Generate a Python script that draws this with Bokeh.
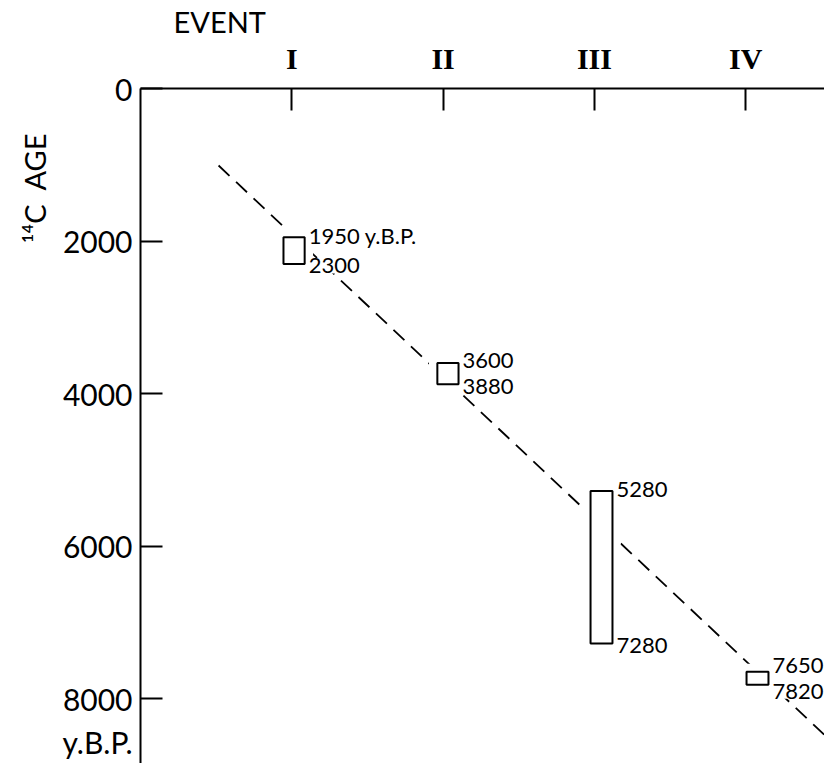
from bokeh.plotting import figure
from bokeh.models import Range1d, FixedTicker, Title
from bokeh.core.properties import value
from bokeh.embed import file_html
from bokeh.resources import INLINE

# ---- data ----
events = ["I", "II", "III", "IV"]
event_pos = [1, 2, 3, 4]
box_x = [1.015, 2.032, 3.047, 4.078]       # box centres (event units)
box_w = [0.14, 0.14, 0.145, 0.145]         # box widths (event units)
age_young = [1950, 3600, 5280, 7650]       # 14C years B.P.
age_old = [2300, 3880, 7280, 7820]
top_labels = ["1950 y.B.P.", "3600", "5280", "7650"]
bottom_labels = ["2300", "3880", "7280", "7820"]
trend_x = [0.516, 4.574]
trend_y = [1010, 8577]
age_ticks = [0, 2000, 4000, 6000, 8000]
age_tick_labels = ["0", "2000", "4000", "6000", "\n8000\ny.B.P."]

W, H = 824, 763
LEFT, TOP, RIGHT = 140, 88, 0
PX_PER_YR = 0.07625
PX_PER_EVENT = 151.3
y_bottom = (H - TOP) / PX_PER_YR
x_right = (W - LEFT - RIGHT) / PX_PER_EVENT

p = figure(width=W, height=H, output_backend="svg", toolbar_location=None,
           x_axis_location="above",
           x_range=Range1d(0, x_right), y_range=Range1d(y_bottom, 0),
           min_border_left=LEFT, min_border_top=TOP, min_border_right=RIGHT,
           min_border_bottom=0)
p.outline_line_color = None
p.grid.visible = False

xa = p.xaxis[0]
xa.ticker = FixedTicker(ticks=event_pos)
xa.major_label_overrides = {pos: lab for pos, lab in zip(event_pos, events)}
xa.major_tick_in = 22
xa.major_tick_out = 0
xa.minor_tick_line_color = None
xa.axis_line_width = 2
xa.major_tick_line_width = 2
xa.axis_line_color = "black"
xa.major_tick_line_color = "black"
xa.major_label_text_font = "Liberation Serif"
xa.major_label_text_font_style = "bold"
xa.major_label_text_font_size = "30px"
xa.major_label_text_color = "black"
xa.major_label_standoff = 14

ya = p.yaxis[0]
ya.ticker = FixedTicker(ticks=age_ticks)
ya.major_label_overrides = {t: lab for t, lab in zip(age_ticks, age_tick_labels)}
ya.major_tick_in = 22
ya.major_tick_out = 0
ya.minor_tick_line_color = None
ya.axis_line_width = 2
ya.major_tick_line_width = 2
ya.axis_line_color = "black"
ya.major_tick_line_color = "black"
ya.major_label_text_font = "Lato"
ya.major_label_text_font_size = "30px"
ya.major_label_text_color = "black"
ya.major_label_standoff = 8

p.add_layout(Title(text="EVENT", align="left", offset=33, standoff=0,
                   text_font="Lato", text_font_size="29px",
                   text_font_style="normal", text_color="black"), "above")
p.add_layout(Title(text="\u00b9\u2074C\u00a0\u00a0AGE", align="right", offset=45,
                   standoff=15, text_font="Lato", text_font_size="29px",
                   text_font_style="normal", text_color="black"), "left")

# dashed trend line
p.line(trend_x, trend_y, line_color="black", line_width=1.8, line_dash="15 9")

cy = [(a + b) / 2 for a, b in zip(age_young, age_old)]
hh = [b - a for a, b in zip(age_young, age_old)]
# white clearance round each box, as in the drawing
p.rect(x=box_x, y=cy, width=38, width_units="screen",
       height=[h + 210 for h in hh], fill_color="white", line_color=None)
p.rect(x=box_x, y=cy, width=box_w, height=hh, fill_color="white",
       line_color="black", line_width=2)

right_edge = [x + w / 2 for x, w in zip(box_x, box_w)]
extra = [max(0.0, (22 - h * PX_PER_YR) / 2) for h in hh]
p.text(x=right_edge, y=age_young, text=top_labels, x_offset=4,
       y_offset=[-2 - e for e in extra],
       text_font=value("Lato"), text_font_size="22px", text_color="black",
       text_baseline="middle", text_align="left",
       background_fill_color="white")
p.text(x=right_edge, y=age_old, text=bottom_labels, x_offset=4,
       y_offset=[2 + e for e in extra],
       text_font=value("Lato"), text_font_size="22px", text_color="black",
       text_baseline="middle", text_align="left",
       background_fill_color="white")

open("out.html", "w").write(file_html(p, INLINE))
